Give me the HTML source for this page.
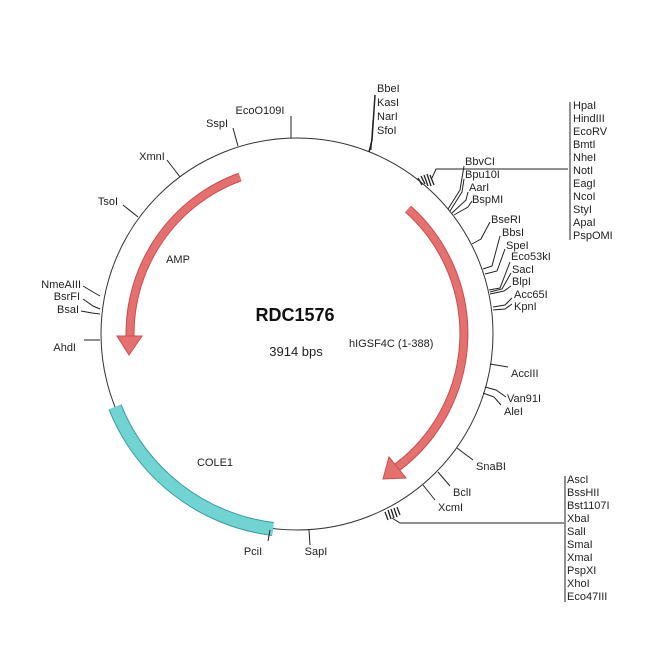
<!DOCTYPE html>
<html><head><meta charset="utf-8"><style>
html,body{margin:0;padding:0;background:#fff}
svg text{font-family:"Liberation Sans",sans-serif;font-size:11px;fill:#222}
</style></head><body>
<svg width="650" height="650" viewBox="0 0 650 650" xmlns="http://www.w3.org/2000/svg">
<rect width="650" height="650" fill="#fff"/>
<circle cx="297" cy="334" r="196" fill="none" stroke="#333" stroke-width="1"/>
<!-- COLE1 -->
<path d="M115,407 A196,196 0 0 0 273,529" fill="none" stroke="#3a9c9c" stroke-width="14"/>
<path d="M115,407 A196,196 0 0 0 273,529" fill="none" stroke="#72d3d3" stroke-width="12"/>
<!-- hIGSF4C -->
<path d="M408,209 A167,167 0 0 1 397.5,467" fill="none" stroke="#c94f4f" stroke-width="9"/>
<path d="M408,209 A167,167 0 0 1 397.5,467" fill="none" stroke="#e57070" stroke-width="7"/>
<polygon points="389,457 406,478 383,479" fill="#e57070" stroke="#c94f4f" stroke-width="1"/>
<!-- AMP -->
<path d="M240,177 A167,167 0 0 0 130,336" fill="none" stroke="#c94f4f" stroke-width="9"/>
<path d="M240,177 A167,167 0 0 0 130,336" fill="none" stroke="#e57070" stroke-width="7"/>
<polygon points="142,336 117,336 129,355" fill="#e57070" stroke="#c94f4f" stroke-width="1"/>

<g stroke="#222" stroke-width="1" fill="none">
<!-- top -->
<line x1="291" y1="116" x2="291" y2="138"/>
<line x1="233" y1="128" x2="238" y2="146"/>
<line x1="167" y1="160" x2="180" y2="177"/>
<line x1="123" y1="205" x2="138" y2="217"/>
<polyline points="369,152 372,140 375,95" stroke-width="1.5"/>
<line x1="371" y1="150" x2="373" y2="120"/>
<!-- left -->
<polyline points="83,286 93,292 100,296"/>
<polyline points="83,299 93,306 100,309"/>
<polyline points="81,311 92,313 100,314"/>
<line x1="84" y1="340" x2="100" y2="340"/>
<!-- Hpa bundle -->
<g stroke-width="1.3">
<line x1="418" y1="178" x2="422" y2="185"/>
<line x1="421" y1="176" x2="425" y2="184"/>
<line x1="424" y1="175" x2="428" y2="186"/>
<line x1="427" y1="174" x2="431" y2="186"/>
<line x1="430" y1="175" x2="434" y2="185"/>
</g>
<polyline points="432,178 436,169 568,169"/>
<line x1="570" y1="102" x2="570" y2="240"/>
<!-- BbvCI group -->
<polyline points="448,209 460,190 464,166"/>
<polyline points="450,211 462,192 464,179"/>
<polyline points="452,213 466,200 468,192"/>
<polyline points="454,215 468,207 472,201"/>
<polyline points="472,244 481,239 490,222"/>
<polyline points="483,269 492,266 500,236"/>
<polyline points="485,274 497,271 505,249"/>
<polyline points="489,290 500,288 510,262"/>
<polyline points="490,292 502,289 511,273"/>
<polyline points="490,294 504,291 511,286"/>
<polyline points="493,307 505,305 512,298"/>
<polyline points="493,310 505,309 512,304"/>
<!-- lower right -->
<line x1="490" y1="364" x2="508" y2="367"/>
<polyline points="485,387 496,390 506,397"/>
<polyline points="483,393 494,397 501,405"/>
<line x1="457" y1="448" x2="473" y2="460"/>
<line x1="438" y1="472" x2="450" y2="486"/>
<line x1="423" y1="485" x2="435" y2="500"/>
<g stroke-width="1.3">
<line x1="385" y1="512" x2="388" y2="520"/>
<line x1="388" y1="510" x2="391" y2="519"/>
<line x1="391" y1="509" x2="394" y2="518"/>
<line x1="394" y1="508" x2="397" y2="517"/>
<line x1="397" y1="507" x2="400" y2="515"/>
</g>
<polyline points="392,518 400,523 564,523"/>
<line x1="565" y1="476" x2="565" y2="602"/>
<!-- bottom -->
<line x1="270" y1="530" x2="268" y2="541"/>
<line x1="309" y1="530" x2="310" y2="545"/>
</g>

<g>
<text x="260" y="114" text-anchor="middle">EcoO109I</text>
<text x="217" y="127" text-anchor="middle">SspI</text>
<text x="152" y="160" text-anchor="middle">XmnI</text>
<text x="108" y="205" text-anchor="middle">TsoI</text>
<text x="377" y="92">BbeI</text>
<text x="377" y="106">KasI</text>
<text x="377" y="120">NarI</text>
<text x="377" y="134">SfoI</text>
<text x="573" y="109">HpaI</text>
<text x="573" y="122">HindIII</text>
<text x="573" y="135">EcoRV</text>
<text x="573" y="148">BmtI</text>
<text x="573" y="161">NheI</text>
<text x="573" y="174">NotI</text>
<text x="573" y="187">EagI</text>
<text x="573" y="200">NcoI</text>
<text x="573" y="213">StyI</text>
<text x="573" y="226">ApaI</text>
<text x="573" y="239">PspOMI</text>
<text x="465" y="165">BbvCI</text>
<text x="465" y="178">Bpu10I</text>
<text x="469" y="191">AarI</text>
<text x="472" y="203">BspMI</text>
<text x="491" y="223">BseRI</text>
<text x="502" y="236">BbsI</text>
<text x="506" y="249">SpeI</text>
<text x="511" y="260">Eco53kI</text>
<text x="512" y="273">SacI</text>
<text x="512" y="285">BlpI</text>
<text x="514" y="298">Acc65I</text>
<text x="514" y="310">KpnI</text>
<text x="511" y="377">AccIII</text>
<text x="507" y="402">Van91I</text>
<text x="504" y="415">AleI</text>
<text x="476" y="470">SnaBI</text>
<text x="453" y="496">BclI</text>
<text x="438" y="511">XcmI</text>
<text x="567" y="483">AscI</text>
<text x="567" y="496">BssHII</text>
<text x="567" y="509">Bst1107I</text>
<text x="567" y="522">XbaI</text>
<text x="567" y="535">SalI</text>
<text x="567" y="548">SmaI</text>
<text x="567" y="561">XmaI</text>
<text x="567" y="574">PspXI</text>
<text x="567" y="587">XhoI</text>
<text x="567" y="600">Eco47III</text>
<text x="81" y="288" text-anchor="end">NmeAIII</text>
<text x="80" y="300" text-anchor="end">BsrFI</text>
<text x="79" y="313" text-anchor="end">BsaI</text>
<text x="76" y="351" text-anchor="end">AhdI</text>
<text x="253" y="555" text-anchor="middle">PciI</text>
<text x="316" y="555" text-anchor="middle">SapI</text>
<text x="178" y="263" text-anchor="middle">AMP</text>
<text x="215" y="466" text-anchor="middle">COLE1</text>
<text x="349" y="347">hIGSF4C (1-388)</text>
<text x="295" y="321" text-anchor="middle" style="font-size:18px;font-weight:bold;fill:#111">RDC1576</text>
<text x="296" y="356" text-anchor="middle" style="font-size:13px">3914 bps</text>
</g>
</svg>
</body></html>
